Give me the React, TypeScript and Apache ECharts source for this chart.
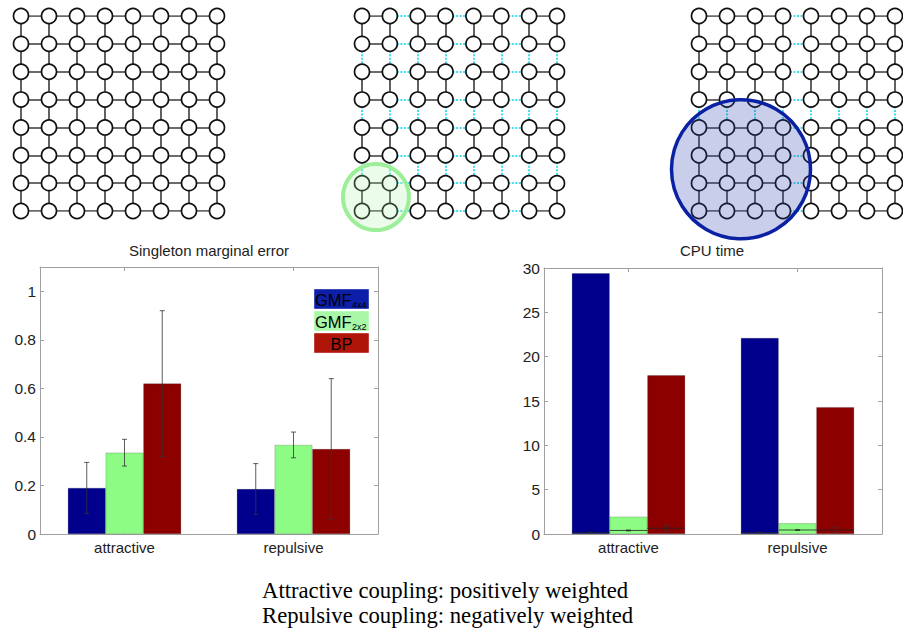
import React, { useEffect, useRef } from 'react';
import * as echarts from 'echarts';

// ---------- data ----------
const categories = ['attractive', 'repulsive'];
const methodNames = ['GMF4x4', 'GMF2x2', 'BP'];
const barColors = ['#00008c', '#8cfc84', '#8c0000'];
const legendColors = ['#0d1fa8', '#a8f8a8', '#b0150a'];

// Singleton marginal error (mean and std)
const gmf4Error = [0.19, 0.185];
const gmf2Error = [0.335, 0.367];
const bpError = [0.62, 0.35];
const gmf4ErrorStd = [0.105, 0.105];
const gmf2ErrorStd = [0.055, 0.053];
const bpErrorStd = [0.3, 0.29];

// CPU time (mean) and its small error marks (center, half-width)
const gmf4Cpu = [29.4, 22.1];
const gmf2Cpu = [1.95, 1.2];
const bpCpu = [17.9, 14.3];
const gmf4CpuMark = [0.15, 0.15];
const gmf2CpuMark = [0.4, 0.45];
const bpCpuMark = [0.65, 0.45];
const gmf4CpuHalf = [0.05, 0.05];
const gmf2CpuHalf = [0.05, 0.05];
const bpCpuHalf = [0.35, 0.3];

const errorAxisMax = 1.1;
const errorAxisStep = 0.2;
const cpuAxisMax = 30;
const cpuAxisStep = 5;

// lattice diagrams
const latticeSize = 8;
const blockSizes = [8, 2, 4];
const highlightBlock = [0, 2, 4];

const titles = ['Singleton marginal error', 'CPU time'];
const captions = ['Attractive coupling: positively weighted', 'Repulsive coupling: negatively weighted'];

// ---------- helpers ----------
function buildEdges(block: number) {
  const solid: any[] = [];
  const dotted: any[] = [];
  for (let r = 0; r < latticeSize; r++) {
    for (let c = 0; c < latticeSize; c++) {
      if (c + 1 < latticeSize) {
        const e = { coords: [[c, r], [c + 1, r]] };
        (Math.floor(c / block) === Math.floor((c + 1) / block) ? solid : dotted).push(e);
      }
      if (r + 1 < latticeSize) {
        const e = { coords: [[c, r], [c, r + 1]] };
        (Math.floor(r / block) === Math.floor((r + 1) / block) ? solid : dotted).push(e);
      }
    }
  }
  return { solid, dotted };
}

function buildNodes() {
  const n: number[][] = [];
  for (let r = 0; r < latticeSize; r++) for (let c = 0; c < latticeSize; c++) n.push([c, r]);
  return n;
}

const BAR_GAP = 0.33;

function makeErrorRender(seriesIdx: number, nSeries: number, withMid: boolean) {
  return (params: any, api: any) => {
    const cat = api.value(0);
    const lo = api.value(1);
    const hi = api.value(2);
    const mid = api.value(3);
    const band = api.size([1, 0])[0];
    const barW = (band * (1 - BAR_GAP)) / nSeries;
    const base = api.coord([cat, mid]);
    const cx = base[0] + (seriesIdx - (nSeries - 1) / 2) * barW;
    const yMid = base[1];
    const yLo = api.coord([cat, lo])[1];
    const yHi = api.coord([cat, hi])[1];
    const cap = 2.5;
    const style = { stroke: '#333', lineWidth: 0.8 };
    const children: any[] = [
      { type: 'line', shape: { x1: cx, y1: yLo, x2: cx, y2: yHi }, style },
      { type: 'line', shape: { x1: cx - cap, y1: yHi, x2: cx + cap, y2: yHi }, style },
      { type: 'line', shape: { x1: cx - cap, y1: yLo, x2: cx + cap, y2: yLo }, style },
    ];
    if (withMid) {
      children.push({
        type: 'line',
        shape: { x1: cx - barW / 2, y1: yMid, x2: cx + barW / 2, y2: yMid },
        style: { stroke: '#222', lineWidth: 0.8 },
      });
    }
    return { type: 'group', children };
  };
}

const FONT = 'Liberation Sans, Arial, Helvetica, sans-serif';

export default function App() {
  const ref = useRef<HTMLDivElement>(null);

  useEffect(() => {
    if (!ref.current) return;
    const chart = echarts.init(ref.current, undefined, { renderer: 'svg' });

    const diagramLefts = [21, 362, 699];
    const diagramWidths = [196, 195, 196];
    const nodes = buildNodes();

    const grids: any[] = diagramLefts.map((l, i) => ({
      left: l,
      top: 16,
      width: diagramWidths[i],
      height: 195,
      show: false,
    }));
    grids.push({ left: 40, top: 267, width: 338, height: 267, show: false });
    grids.push({ left: 544, top: 268, width: 338, height: 266, show: false });

    const xAxes: any[] = [];
    const yAxes: any[] = [];
    for (let i = 0; i < 3; i++) {
      xAxes.push({ type: 'value', gridIndex: i, min: 0, max: latticeSize - 1, show: false });
      yAxes.push({ type: 'value', gridIndex: i, min: 0, max: latticeSize - 1, inverse: true, show: false });
    }
    const frame = { color: '#a0a0a0', width: 1 };
    const catAxis = (gridIndex: number, position: 'top' | 'bottom') => ({
      type: 'category',
      gridIndex,
      position,
      data: categories,
      boundaryGap: true,
      axisLine: { show: true, onZero: false, lineStyle: frame },
      axisTick: { show: true, inside: true, alignWithLabel: true, length: 4, lineStyle: frame },
      axisLabel: {
        show: position === 'bottom',
        fontSize: 15,
        color: '#222',
        margin: 6,
        fontFamily: FONT,
      },
      splitLine: { show: false },
    });
    const valAxis = (gridIndex: number, position: 'left' | 'right', max: number, step: number) => ({
      type: 'value',
      gridIndex,
      position,
      min: 0,
      max,
      interval: step,
      axisLine: { show: true, onZero: false, lineStyle: frame },
      axisTick: { show: true, inside: true, length: 4, lineStyle: frame },
      axisLabel: {
        show: position === 'left',
        fontSize: 15.5,
        color: '#222',
        margin: 4,
        fontFamily: FONT,
        showMaxLabel: max % step === 0,
      },
      splitLine: { show: false },
    });
    // x: 3 bottom, 4 top (left chart); 5 bottom, 6 top (right chart)
    xAxes.push(catAxis(3, 'bottom'), catAxis(3, 'top'), catAxis(4, 'bottom'), catAxis(4, 'top'));
    yAxes.push(
      valAxis(3, 'left', errorAxisMax, errorAxisStep),
      valAxis(3, 'right', errorAxisMax, errorAxisStep),
      valAxis(4, 'left', cpuAxisMax, cpuAxisStep),
      valAxis(4, 'right', cpuAxisMax, cpuAxisStep)
    );

    const series: any[] = [];
    // lattice diagrams
    for (let i = 0; i < 3; i++) {
      const { solid, dotted } = buildEdges(blockSizes[i]);
      series.push({
        type: 'lines',
        coordinateSystem: 'cartesian2d',
        xAxisIndex: i,
        yAxisIndex: i,
        silent: true,
        z: 1,
        lineStyle: { color: '#3a3a3a', width: 1.6, opacity: 1 },
        data: solid,
      });
      if (dotted.length) {
        series.push({
          type: 'lines',
          coordinateSystem: 'cartesian2d',
          xAxisIndex: i,
          yAxisIndex: i,
          silent: true,
          z: 1,
          lineStyle: { color: '#3ee0f0', width: 2, type: [2, 1.5], opacity: 1 },
          data: dotted,
        });
      }
      series.push({
        type: 'scatter',
        xAxisIndex: i,
        yAxisIndex: i,
        silent: true,
        z: 2,
        symbol: 'circle',
        symbolSize: 15,
        itemStyle: { color: '#ffffff', borderColor: '#111', borderWidth: 1.7, opacity: 1 },
        data: nodes,
      });
      if (highlightBlock[i] > 0) {
        const b = highlightBlock[i];
        const center = [(b - 1) / 2, latticeSize - 1 - (b - 1) / 2];
        const isGreen = b === 2;
        series.push({
          type: 'scatter',
          xAxisIndex: i,
          yAxisIndex: i,
          silent: true,
          z: 3,
          symbol: 'circle',
          symbolSize: isGreen ? 66 : 139,
          itemStyle: isGreen
            ? { color: 'rgba(170,240,160,0.22)', borderColor: '#9cef98', borderWidth: 4, opacity: 1 }
            : { color: 'rgba(40,60,170,0.25)', borderColor: '#0b21a3', borderWidth: 3.5, opacity: 1 },
          data: [center],
        });
      }
    }

    // bar charts
    const errMeans = [gmf4Error, gmf2Error, bpError];
    const errStd = [gmf4ErrorStd, gmf2ErrorStd, bpErrorStd];
    const cpuMeans = [gmf4Cpu, gmf2Cpu, bpCpu];
    const cpuMark = [gmf4CpuMark, gmf2CpuMark, bpCpuMark];
    const cpuHalf = [gmf4CpuHalf, gmf2CpuHalf, bpCpuHalf];

    methodNames.forEach((name, k) => {
      series.push({
        name,
        type: 'bar',
        xAxisIndex: 3,
        yAxisIndex: 3,
        data: errMeans[k],
        barGap: '0%',
        barCategoryGap: '33%',
        itemStyle: { color: barColors[k], borderColor: 'rgba(0,0,0,0.35)', borderWidth: 0.5 },
        silent: true,
        z: 2,
      });
    });
    methodNames.forEach((name, k) => {
      series.push({
        name,
        type: 'bar',
        xAxisIndex: 5,
        yAxisIndex: 5,
        data: cpuMeans[k],
        barGap: '0%',
        barCategoryGap: '33%',
        itemStyle: { color: barColors[k], borderColor: 'rgba(0,0,0,0.35)', borderWidth: 0.5 },
        silent: true,
        z: 2,
      });
    });
    methodNames.forEach((name, k) => {
      series.push({
        name: name + ' error',
        type: 'custom',
        xAxisIndex: 3,
        yAxisIndex: 3,
        z: 4,
        silent: true,
        renderItem: makeErrorRender(k, methodNames.length, false),
        encode: { x: 0, y: [1, 2] },
        data: categories.map((_, c) => [
          c,
          errMeans[k][c] - errStd[k][c],
          errMeans[k][c] + errStd[k][c],
          errMeans[k][c],
        ]),
      });
      series.push({
        name: name + ' cpu error',
        type: 'custom',
        xAxisIndex: 5,
        yAxisIndex: 5,
        z: 4,
        silent: true,
        renderItem: makeErrorRender(k, methodNames.length, true),
        encode: { x: 0, y: [1, 2] },
        data: categories.map((_, c) => [
          c,
          Math.max(0, cpuMark[k][c] - cpuHalf[k][c]),
          cpuMark[k][c] + cpuHalf[k][c],
          cpuMark[k][c],
        ]),
      });
    });

    // legend (drawn as coloured boxes with text inside)
    const legendX = 314;
    const legendY = [289, 311, 333];
    const legendW = 55;
    const legendH = 20;
    const graphic: any[] = [];
    methodNames.forEach((name, k) => {
      graphic.push({
        type: 'rect',
        shape: { x: legendX, y: legendY[k], width: legendW, height: legendH },
        style: { fill: legendColors[k], stroke: 'rgba(255,255,255,0.4)', lineWidth: 1 },
        z: 10,
      });
      const m = name.match(/^(GMF)(.+)$/);
      if (m) {
        graphic.push({
          type: 'text',
          x: legendX + 1,
          y: legendY[k] + 11,
          z: 11,
          style: { text: m[1], fontSize: 16.5, fontFamily: FONT, fill: '#000', align: 'left', verticalAlign: 'middle' },
        });
        graphic.push({
          type: 'text',
          x: legendX + 38,
          y: legendY[k] + 16,
          z: 11,
          style: { text: m[2], fontSize: 9, fontFamily: FONT, fill: '#000', align: 'left', verticalAlign: 'middle' },
        });
      } else {
        graphic.push({
          type: 'text',
          x: legendX + legendW / 2,
          y: legendY[k] + 11,
          z: 11,
          style: { text: name, fontSize: 16.5, fontFamily: FONT, fill: '#000', align: 'center', verticalAlign: 'middle' },
        });
      }
    });

    // titles
    const titleX = [209, 712];
    titles.forEach((t, i) => {
      graphic.push({
        type: 'text',
        x: titleX[i],
        y: 250,
        z: 11,
        style: { text: t, fontSize: 15, fontFamily: FONT, fill: '#222', align: 'center', verticalAlign: 'middle' },
      });
    });
    // captions
    const captionY = [590, 615];
    captions.forEach((t, i) => {
      graphic.push({
        type: 'text',
        x: 262,
        y: captionY[i],
        z: 11,
        style: {
          text: t,
          fontSize: 22.7,
          fontFamily: 'Liberation Serif, Times New Roman, serif',
          fill: '#000',
          align: 'left',
          verticalAlign: 'middle',
        },
      });
    });

    chart.setOption({
      animation: false,
      backgroundColor: '#ffffff',
      textStyle: { fontFamily: FONT },
      grid: grids,
      xAxis: xAxes,
      yAxis: yAxes,
      series,
      graphic,
    });

    return () => {
      chart.dispose();
    };
  }, []);

  return (
    <div
      ref={ref}
      style={{ position: 'fixed', left: 0, top: 0, width: 903, height: 634, background: '#fff' }}
    />
  );
}
